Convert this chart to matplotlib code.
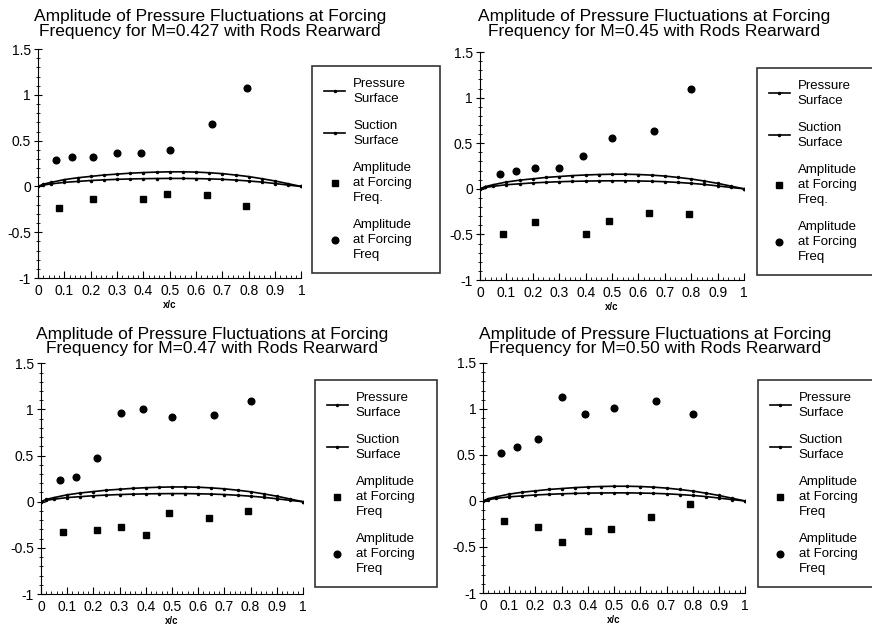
import numpy as np
import matplotlib.pyplot as plt
from matplotlib.ticker import MultipleLocator

plt.rcParams['font.family'] = ['Liberation Sans', 'DejaVu Sans']

# ======================
# DATA
# ======================
mach_labels = ["0.427", "0.45", "0.47", "0.50"]

# blade surface shape (same in every panel)
surf_x = [0, 0.02, 0.05, 0.1, 0.15, 0.2, 0.25, 0.3, 0.35, 0.4, 0.45, 0.5,
          0.55, 0.6, 0.65, 0.7, 0.75, 0.8, 0.85, 0.9, 0.95, 1.0]
suction_y = [0, 0.025, 0.045, 0.075, 0.095, 0.11, 0.125, 0.135, 0.145, 0.152, 0.157, 0.16,
             0.16, 0.157, 0.15, 0.14, 0.125, 0.108, 0.085, 0.06, 0.03, 0]
pressure_y = [0, 0.015, 0.028, 0.045, 0.055, 0.065, 0.072, 0.078, 0.082, 0.085, 0.087, 0.088,
              0.088, 0.086, 0.083, 0.078, 0.07, 0.06, 0.048, 0.032, 0.015, 0]

# amplitude at forcing frequency, squares
sq_x_1 = [0.078, 0.21, 0.40, 0.49, 0.64, 0.79]
sq_y_1 = [-0.24, -0.14, -0.14, -0.085, -0.09, -0.21]
sq_x_2 = [0.086, 0.21, 0.40, 0.49, 0.64, 0.79]
sq_y_2 = [-0.50, -0.365, -0.50, -0.35, -0.26, -0.28]
sq_x_3 = [0.083, 0.215, 0.304, 0.40, 0.49, 0.64, 0.79]
sq_y_3 = [-0.33, -0.31, -0.275, -0.36, -0.12, -0.175, -0.10]
sq_x_4 = [0.079, 0.21, 0.30, 0.40, 0.49, 0.64, 0.79]
sq_y_4 = [-0.215, -0.285, -0.45, -0.325, -0.30, -0.17, -0.03]

# amplitude at forcing frequency, circles
ci_x_1 = [0.067, 0.128, 0.21, 0.30, 0.39, 0.50, 0.66, 0.795]
ci_y_1 = [0.29, 0.32, 0.32, 0.37, 0.37, 0.40, 0.68, 1.08]
ci_x_2 = [0.077, 0.135, 0.21, 0.30, 0.39, 0.50, 0.66, 0.80]
ci_y_2 = [0.16, 0.20, 0.23, 0.23, 0.36, 0.555, 0.63, 1.09]
ci_x_3 = [0.074, 0.134, 0.214, 0.304, 0.39, 0.50, 0.66, 0.80]
ci_y_3 = [0.23, 0.27, 0.47, 0.965, 1.006, 0.92, 0.94, 1.095]
ci_x_4 = [0.07, 0.128, 0.208, 0.30, 0.39, 0.50, 0.66, 0.80]
ci_y_4 = [0.52, 0.59, 0.67, 1.13, 0.94, 1.006, 1.09, 0.94]

freq_sq_labels = ["Freq.", "Freq.", "Freq", "Freq"]

x_ticks = [0, 0.1, 0.2, 0.3, 0.4, 0.5, 0.6, 0.7, 0.8, 0.9, 1]
x_tick_labels = ["0", "0.1", "0.2", "0.3", "0.4", "0.5", "0.6", "0.7", "0.8", "0.9", "1"]
y_ticks = [-1, -0.5, 0, 0.5, 1, 1.5]
y_tick_labels = ["-1", "-0.5", "0", "0.5", "1", "1.5"]


def main():
    fig = plt.figure(figsize=(8.72, 6.27), dpi=100)

    # axes rectangles, legend boxes, title centres (figure fraction)
    axes_pos = [
        [0.0436, 0.5566, 0.302, 0.365],
        [0.5505, 0.5534, 0.3028, 0.3636],
        [0.047, 0.0526, 0.3005, 0.368],
        [0.554, 0.0542, 0.3005, 0.367],
    ]
    legend_box = [
        (0.358, 0.5646, 0.147, 0.33),
        (0.868, 0.5646, 0.147, 0.327),
        (0.361, 0.067, 0.140, 0.327),
        (0.869, 0.067, 0.147, 0.327),
    ]
    title_pos = [(0.241, 0.985), (0.75, 0.985), (0.243, 0.479), (0.751, 0.479)]

    sq_x = [sq_x_1, sq_x_2, sq_x_3, sq_x_4]
    sq_y = [sq_y_1, sq_y_2, sq_y_3, sq_y_4]
    ci_x = [ci_x_1, ci_x_2, ci_x_3, ci_x_4]
    ci_y = [ci_y_1, ci_y_2, ci_y_3, ci_y_4]

    for i in range(4):
        ax = fig.add_axes(axes_pos[i])

        ax.plot(surf_x, pressure_y, color='black', lw=1.2, marker='.', ms=3,
                label="Pressure\nSurface")
        ax.plot(surf_x, suction_y, color='black', lw=1.2, marker='.', ms=3,
                label="Suction\nSurface")
        ax.plot(sq_x[i], sq_y[i], ls='none', marker='s', ms=4.5, color='black',
                label="Amplitude\nat Forcing\n" + freq_sq_labels[i])
        ax.plot(ci_x[i], ci_y[i], ls='none', marker='o', ms=4.8, color='black',
                label="Amplitude\nat Forcing\nFreq")

        ax.set_xlim(0, 1)
        ax.set_ylim(-1, 1.5)
        ax.set_xticks(x_ticks)
        ax.set_xticklabels(x_tick_labels, fontsize=10)
        ax.set_yticks(y_ticks)
        ax.set_yticklabels(y_tick_labels, fontsize=10)
        ax.xaxis.set_minor_locator(MultipleLocator(0.02))
        ax.yaxis.set_minor_locator(MultipleLocator(0.1))
        ax.tick_params(axis='x', which='major', direction='in', length=5, pad=4)
        ax.tick_params(axis='x', which='minor', direction='in', length=2.5)
        ax.tick_params(axis='y', which='major', direction='inout', length=6, pad=2)
        ax.tick_params(axis='y', which='minor', direction='inout', length=3)
        ax.spines['top'].set_visible(False)
        ax.spines['right'].set_visible(False)
        ax.set_xlabel("x/c", fontsize=7, fontweight='bold', labelpad=2)

        leg = ax.legend(loc='upper left', bbox_to_anchor=legend_box[i],
                        bbox_transform=fig.transFigure, mode='expand', fontsize=9.5,
                        frameon=True, fancybox=False, edgecolor='black',
                        handlelength=1.6, handletextpad=0.6, labelspacing=1.18,
                        borderpad=0.9, borderaxespad=0)
        leg.get_frame().set_linewidth(1.2)
        for t in leg.get_texts():
            t.set_linespacing(1.3)

        fig.text(title_pos[i][0], title_pos[i][1],
                 "Amplitude of Pressure Fluctuations at Forcing\n"
                 "Frequency for M=" + mach_labels[i] + " with Rods Rearward",
                 ha='center', va='top', fontsize=12.5, linespacing=0.95)

    fig.savefig("out.png", dpi=100)
    plt.close(fig)


if __name__ == "__main__":
    main()
